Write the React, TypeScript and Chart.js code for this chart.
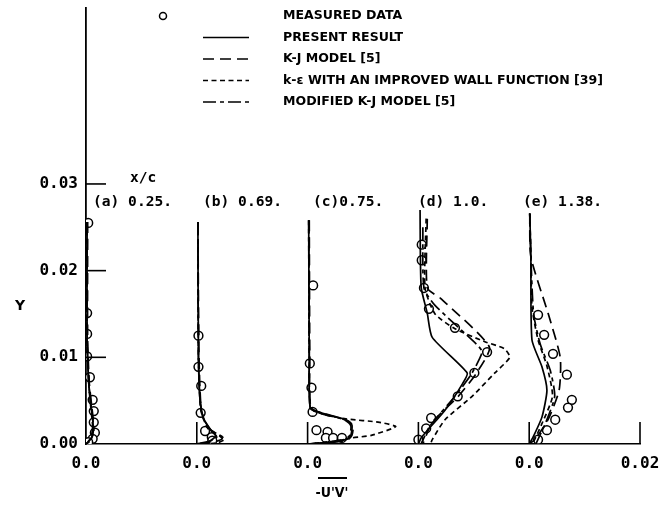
import React, { useEffect, useRef } from 'react';
import { Chart, registerables } from 'chart.js';

Chart.register(...registerables);

// ---------- data ----------
const stationLabels = ['(a) 0.25.', '(b) 0.69.', '(c)0.75.', '(d) 1.0.', '(e) 1.38.'];
const STATION_SPACING = 0.02; // each profile is offset by 0.02 in -u'v'
const xTickValues = [0, 0.02, 0.04, 0.06, 0.08, 0.1];
const xTickLabels = ['0.0', '0.0', '0.0', '0.0', '0.0', '0.02'];
const yTickValues = [0, 0.01, 0.02, 0.03];
const yTickLabels = ['0.00', '0.01', '0.02', '0.03'];
const Y_MAX = 0.0503;

const legendLabels = [
  'MEASURED DATA',
  'PRESENT RESULT',
  'K-J MODEL [5]',
  'k-\u03b5 WITH AN IMPROVED WALL FUNCTION [39]',
  'MODIFIED K-J MODEL [5]',
];

// [ -u'v' , Y ] pairs, one array per station (a..e)
const measuredData: number[][][] = [
  [[0.0004, 0.0255], [0.0002, 0.0151], [0.0002, 0.0127], [0.0002, 0.0101], [0.0007, 0.0077], [0.0012, 0.0051], [0.0014, 0.0038], [0.0014, 0.0025], [0.0016, 0.0013], [0.0012, 0.0006], [0.0004, 0.0002]],
  [[0.0003, 0.0125], [0.0003, 0.0089], [0.0008, 0.0067], [0.0007, 0.0036], [0.0015, 0.0015], [0.0027, 0.0008], [0.0028, 0.0004]],
  [[0.001, 0.0183], [0.0004, 0.0093], [0.0007, 0.0065], [0.0009, 0.0037], [0.0016, 0.0016], [0.0036, 0.0014], [0.0033, 0.0007], [0.0046, 0.0007], [0.0062, 0.0007]],
  [[0.0006, 0.023], [0.0006, 0.0212], [0.001, 0.018], [0.0019, 0.0156], [0.0066, 0.0134], [0.0124, 0.0106], [0.0101, 0.0082], [0.0071, 0.0055], [0.0023, 0.003], [0.0014, 0.0018], [0.0, 0.0005]],
  [[0.0016, 0.0149], [0.0027, 0.0126], [0.0043, 0.0104], [0.0068, 0.008], [0.0077, 0.0051], [0.007, 0.0042], [0.0047, 0.0028], [0.0032, 0.0016], [0.0016, 0.0005]],
];

const presentData: number[][][] = [
  [[0.0002, 0.0256], [0.0002, 0.012], [0.0005, 0.007], [0.001, 0.004], [0.0013, 0.002], [0.001, 0.0007], [0, 0]],
  [[0.0002, 0.0256], [0.0003, 0.01], [0.0006, 0.005], [0.0012, 0.003], [0.0025, 0.0016], [0.0034, 0.0009], [0.0022, 0.0003], [0, 0]],
  [[0.0002, 0.0258], [0.0003, 0.01], [0.0005, 0.0041], [0.0025, 0.0036], [0.0069, 0.0028], [0.008, 0.0022], [0.0078, 0.001], [0.0069, 0.0005], [0.003, 0.0001], [0, 0]],
  [[0.0003, 0.027], [0.0005, 0.0181], [0.0016, 0.0151], [0.0025, 0.0123], [0.0088, 0.0082], [0.008, 0.007], [0.0048, 0.0039], [0.0006, 0.0008], [0, 0]],
  [[0.0001, 0.0266], [0.0003, 0.0216], [0.0005, 0.012], [0.0023, 0.0089], [0.0032, 0.0062], [0.0023, 0.0031], [0.0007, 0.0008], [0, 0]],
];

const kjData: number[][][] = [
  [[0.0003, 0.0256], [0.0003, 0.012], [0.0006, 0.007], [0.0011, 0.004], [0.0014, 0.002], [0.001, 0.0006], [0, 0]],
  [[0.0002, 0.0256], [0.0004, 0.01], [0.0008, 0.004], [0.0018, 0.002], [0.004, 0.001], [0.0046, 0.0006], [0.003, 0.0002], [0, 0]],
  [[0.0003, 0.0258], [0.0004, 0.01], [0.0006, 0.0042], [0.003, 0.0035], [0.0072, 0.0027], [0.0082, 0.0021], [0.008, 0.001], [0.007, 0.0004], [0, 0]],
  [[0.0016, 0.026], [0.0016, 0.018], [0.004, 0.0168], [0.0128, 0.0112], [0.0105, 0.0082], [0.0072, 0.0055], [0.0025, 0.0025], [0.0008, 0]],
  [[0.0001, 0.0266], [0.0003, 0.0216], [0.0034, 0.0151], [0.0056, 0.01], [0.0054, 0.0062], [0.0034, 0.0028], [0.001, 0.0005], [0, 0]],
];

const kEpsData: number[][][] = [
  [[0.0002, 0.0256], [0.0002, 0.012], [0.0006, 0.006], [0.0012, 0.003], [0.0014, 0.0015], [0.0008, 0.0004], [0, 0]],
  [[0.0002, 0.0256], [0.0003, 0.01], [0.0007, 0.004], [0.002, 0.0018], [0.0045, 0.0009], [0.005, 0.0005], [0.0035, 0.0001], [0, 0]],
  [[0.0002, 0.0258], [0.0003, 0.01], [0.0006, 0.0042], [0.003, 0.0034], [0.0069, 0.0029], [0.013, 0.0025], [0.0159, 0.002], [0.0115, 0.001], [0.008, 0.0007], [0.004, 0.0002], [0, 0]],
  [[0.0014, 0.026], [0.0012, 0.018], [0.003, 0.015], [0.0066, 0.0133], [0.012, 0.0118], [0.0155, 0.011], [0.0165, 0.01], [0.0138, 0.0082], [0.0097, 0.0055], [0.0048, 0.0028], [0.0025, 0.0005], [0.0022, 0]],
  [[0.0001, 0.0266], [0.0003, 0.0216], [0.0005, 0.0158], [0.0016, 0.012], [0.0032, 0.009], [0.0042, 0.0055], [0.0022, 0.0022], [0.0006, 0]],
];

const modKjData: number[][][] = [
  [[0.0002, 0.0256], [0.0002, 0.012], [0.0005, 0.007], [0.0009, 0.004], [0.0012, 0.002], [0.0009, 0.0007], [0, 0]],
  [[0.0002, 0.0256], [0.0003, 0.01], [0.0006, 0.005], [0.0013, 0.0028], [0.0028, 0.0014], [0.0036, 0.0008], [0.002, 0.0002], [0, 0]],
  [[0.0002, 0.0258], [0.0003, 0.01], [0.0005, 0.0041], [0.0025, 0.0035], [0.0066, 0.0028], [0.0078, 0.0021], [0.0076, 0.001], [0.0066, 0.0005], [0, 0]],
  [[0.0008, 0.025], [0.001, 0.018], [0.003, 0.016], [0.0105, 0.0115], [0.0115, 0.0106], [0.0095, 0.008], [0.0066, 0.0055], [0.002, 0.002], [0.0005, 0]],
  [[0.0001, 0.0266], [0.0003, 0.0216], [0.0008, 0.015], [0.002, 0.0115], [0.0038, 0.0085], [0.0046, 0.0055], [0.003, 0.0025], [0.0012, 0]],
];

// ---------- styles ----------
const INK = '#000';
const modelSeries = [
  { data: presentData, dash: [] as number[] },
  { data: kjData, dash: [11, 6] },
  { data: kEpsData, dash: [5, 3.5] },
  { data: modKjData, dash: [13, 4, 4, 4] },
];

const toPoints = (pairs: number[][], station: number) =>
  pairs.map(([u, yv]) => ({ x: station * STATION_SPACING + u, y: yv }));

function drawFitted(ctx: CanvasRenderingContext2D, text: string, x: number, y: number, font: string, sx: number, align: CanvasTextAlign = 'left') {
  ctx.save();
  ctx.font = font;
  ctx.textAlign = align;
  ctx.textBaseline = 'middle';
  ctx.translate(x, y);
  ctx.scale(sx, 1);
  ctx.fillText(text, 0, 0);
  ctx.restore();
}

const LEGEND_FONT = 'bold 13px "Liberation Sans Narrow", "DejaVu Sans Condensed", sans-serif';
const LABEL_FONT = 'bold 14px "DejaVu Sans Mono", monospace';

const annotatePlugin = {
  id: 'annotate',
  afterDatasetsDraw(chart: any) {
    const { ctx, scales } = chart;
    const xs = scales.x;
    const ys = scales.y;
    ctx.save();
    ctx.strokeStyle = INK;
    ctx.fillStyle = INK;
    ctx.lineWidth = 1.6;
    ctx.setLineDash([]);

    // inward tick marks
    const x0 = xs.getPixelForValue(0);
    const y0 = ys.getPixelForValue(0);
    yTickValues.forEach((v) => {
      if (v === 0) return;
      const py = ys.getPixelForValue(v);
      ctx.beginPath();
      ctx.moveTo(x0, py);
      ctx.lineTo(x0 + 20, py);
      ctx.stroke();
    });
    xTickValues.forEach((v) => {
      if (v === 0) return;
      const px = xs.getPixelForValue(v);
      ctx.beginPath();
      ctx.moveTo(px, y0);
      ctx.lineTo(px, y0 - 22);
      ctx.stroke();
    });

    // legend
    const rows = [16, 37.5, 59, 80.5, 102];
    ctx.font = LEGEND_FONT;
    const legSx = 320 / ctx.measureText(legendLabels[3]).width;
    rows.forEach((ry, i) => {
      if (i === 0) {
        ctx.setLineDash([]);
        ctx.lineWidth = 1.5;
        ctx.beginPath();
        ctx.arc(163, ry, 3.5, 0, Math.PI * 2);
        ctx.stroke();
      } else {
        ctx.setLineDash(modelSeries[i - 1].dash);
        ctx.lineWidth = 1.6;
        ctx.beginPath();
        ctx.moveTo(203, ry);
        ctx.lineTo(249, ry);
        ctx.stroke();
      }
      ctx.setLineDash([]);
      drawFitted(ctx, legendLabels[i], 283, ry, LEGEND_FONT, legSx);
    });

    // x/c and station labels
    ctx.font = LABEL_FONT;
    const labSx = 79 / ctx.measureText(stationLabels[0]).width;
    drawFitted(ctx, 'x/c', 130, 178, LABEL_FONT, labSx);
    const labelLeft = [93, 203, 313, 418, 523];
    stationLabels.forEach((t, i) => drawFitted(ctx, t, labelLeft[i], 202, LABEL_FONT, labSx));

    // axis titles
    drawFitted(ctx, 'Y', 15, 306, 'bold 14px "DejaVu Sans", sans-serif', 1);
    drawFitted(ctx, "-U'V'", 332, 493, 'bold 14px "Liberation Sans Narrow", "DejaVu Sans Condensed", sans-serif', 1, 'center');
    ctx.lineWidth = 2;
    ctx.beginPath();
    ctx.moveTo(318, 478);
    ctx.lineTo(347, 478);
    ctx.stroke();
    ctx.restore();
  },
};

export default function App() {
  const canvasRef = useRef<HTMLCanvasElement | null>(null);

  useEffect(() => {
    document.body.style.margin = '0';
    const canvas = canvasRef.current;
    if (!canvas) return;

    const datasets: any[] = [];
    modelSeries.forEach((m) => {
      m.data.forEach((pairs, s) => {
        datasets.push({
          data: toPoints(pairs, s),
          showLine: true,
          borderColor: INK,
          borderWidth: 1.7,
          borderDash: m.dash,
          pointRadius: 0,
          fill: false,
          tension: 0.2,
        });
      });
    });
    measuredData.forEach((pairs, s) => {
      datasets.push({
        data: toPoints(pairs, s),
        showLine: false,
        pointStyle: 'circle',
        pointRadius: 4.4,
        pointBorderWidth: 1.5,
        pointBorderColor: INK,
        pointBackgroundColor: '#fff',
      });
    });

    const tickFont = { family: '"DejaVu Sans Mono", monospace', size: 16, weight: 'bold' as const };

    const chart = new Chart(canvas, {
      type: 'scatter',
      data: { datasets },
      options: {
        animation: false,
        responsive: false,
        maintainAspectRatio: false,
        layout: { padding: 0 },
        plugins: { legend: { display: false }, tooltip: { enabled: false } },
        scales: {
          x: {
            type: 'linear',
            min: 0,
            max: 0.1,
            afterBuildTicks: (s: any) => {
              s.ticks = xTickValues.map((v) => ({ value: v }));
            },
            afterFit: (s: any) => {
              s.height = 63;
              s.paddingLeft = 0;
              s.paddingRight = 20;
            },
            ticks: {
              callback: (_v: any, i: number) => xTickLabels[i],
              padding: 10,
              maxRotation: 0,
              autoSkip: false,
              color: INK,
              font: tickFont,
            },
            grid: { display: false, drawTicks: false },
            border: { display: true, color: INK, width: 1.5 },
          },
          y: {
            type: 'linear',
            min: 0,
            max: Y_MAX,
            afterBuildTicks: (s: any) => {
              s.ticks = yTickValues.map((v) => ({ value: v }));
            },
            afterFit: (s: any) => {
              s.width = 86;
              s.paddingTop = 8;
              s.paddingBottom = 0;
            },
            ticks: {
              callback: (_v: any, i: number) => yTickLabels[i],
              padding: 8,
              autoSkip: false,
              color: INK,
              font: tickFont,
            },
            grid: { display: false, drawTicks: false },
            border: { display: true, color: INK, width: 1.8 },
          },
        },
      },
      plugins: [annotatePlugin],
    });

    return () => chart.destroy();
  }, []);

  return <canvas ref={canvasRef} width={660} height={507} style={{ display: 'block' }} />;
}
